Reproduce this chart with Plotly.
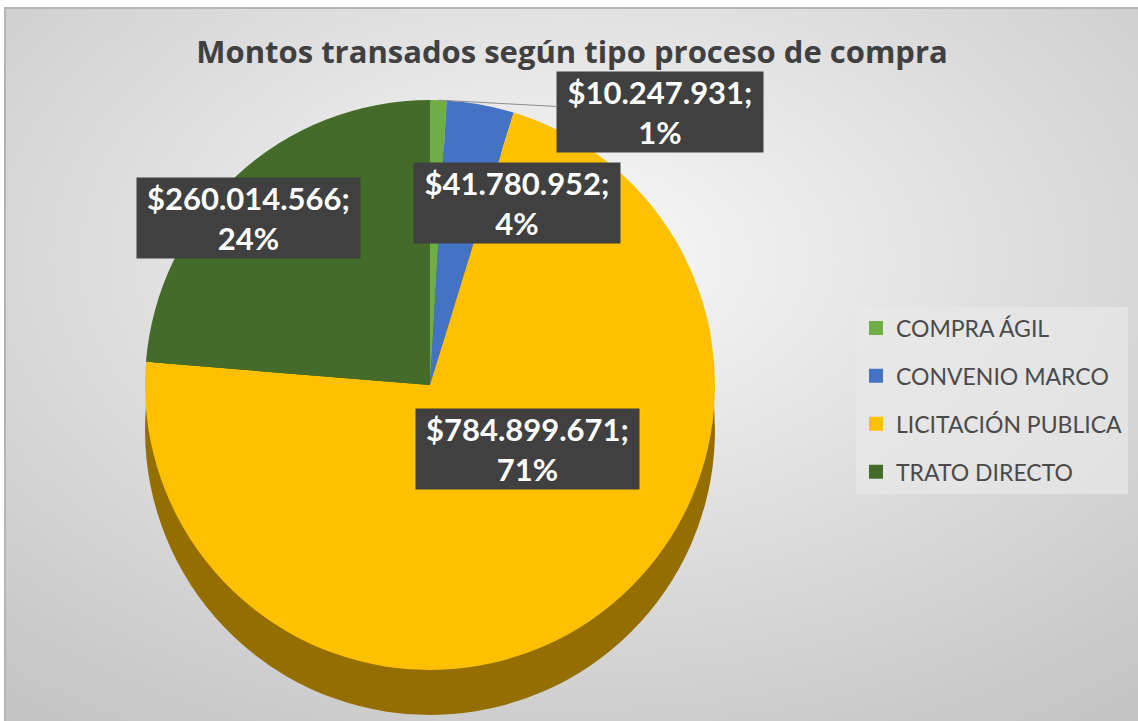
import math
import plotly.graph_objects as go

categorias = ['COMPRA ÁGIL', 'CONVENIO MARCO', 'LICITACIÓN PUBLICA', 'TRATO DIRECTO']
montos = [10247931, 41780952, 784899671, 260014566]
porcentajes = ['1%', '4%', '71%', '24%']
colores = ['#70AD47', '#4472C4', '#FFC000', '#456B2A']
colores_lado = ['#4f7a32', '#2f5290', '#946f00', '#2f4a1d']

W, H = 1138, 721
# pie geometry in pixels
CX, CY, R, DEPTH = 430, 385, 285, 45
# label box centres in pixels
pos_etiquetas = [(660, 112), (517, 203), (527, 449), (248, 218)]

FONT = 'Lato'
GRIS = '#404040'


def dominio(cx, cy, r):
    return dict(x=[(cx - r) / W, (cx + r) / W],
                y=[1 - (cy + r) / H, 1 - (cy - r) / H])


fondo = ("data:image/svg+xml;utf8,"
         "<svg xmlns='http://www.w3.org/2000/svg' width='100' height='100' "
         "preserveAspectRatio='none'><defs><radialGradient id='g' cx='50%' "
         "cy='35%' r='80%'><stop offset='0' stop-color='%23f8f8f8'/>"
         "<stop offset='1' stop-color='%23c4c4c4'/></radialGradient></defs>"
         "<rect width='100' height='100' fill='url(%23g)'/></svg>")

fig = go.Figure()

# side of the "3D" disc
fig.add_trace(go.Pie(labels=categorias, values=montos, sort=False,
                     direction='clockwise', rotation=0,
                     marker=dict(colors=colores_lado),
                     textinfo='none', hoverinfo='skip', showlegend=False,
                     domain=dominio(CX, CY + DEPTH, R)))

fig.add_trace(go.Pie(labels=categorias, values=montos, sort=False,
                     direction='clockwise', rotation=0,
                     marker=dict(colors=colores),
                     textinfo='none', hoverinfo='label+value+percent',
                     showlegend=False,
                     domain=dominio(CX, CY, R)))

# legend entries (spaced like the Excel legend)
for nombre, color in zip(categorias, colores):
    fig.add_trace(go.Scatter(x=[None], y=[None], mode='markers', name=nombre,
                             legendgroup=nombre,
                             marker=dict(symbol='square', size=14,
                                         color=color)))

total = sum(montos)
acum = 0
for i, (m, p) in enumerate(zip(montos, porcentajes)):
    mid = (acum + m / 2) / total * 2 * math.pi
    acum += m
    linea = '$' + f'{m:,}'.replace(',', '.') + ';'
    texto = '<b>' + linea + '<br>' + p + '</b>'
    bx, by = pos_etiquetas[i]
    ann = dict(text=texto, xref='paper', yref='paper', align='center',
               font=dict(family=FONT, size=31, color='white'),
               bgcolor=GRIS, borderpad=1, opacity=1,
               width=17 * len(linea),
               xanchor='center', yanchor='middle')
    if i == 0:
        tx = CX + R * math.sin(mid)
        ty = CY - R * math.cos(mid)
        ann.update(x=tx / W, y=1 - ty / H, showarrow=True, arrowhead=0,
                   arrowwidth=1, arrowcolor='#8c8c8c',
                   ax=bx - tx, ay=by - ty)
    else:
        ann.update(x=bx / W, y=1 - by / H, showarrow=False)
    fig.add_annotation(**ann)

fig.update_layout(
    width=W, height=H,
    margin=dict(l=0, r=0, t=0, b=0),
    paper_bgcolor='white',
    plot_bgcolor='rgba(0,0,0,0)',
    xaxis=dict(visible=False),
    yaxis=dict(visible=False),
    title=dict(text='<b>Montos transados según tipo proceso de compra</b>',
               x=572 / W, xanchor='center', y=1 - 52 / H, yanchor='middle',
               font=dict(family='Open Sans', size=31, color=GRIS)),
    legend=dict(x=856 / W, xanchor='left', y=1 - 400 / H, yanchor='middle',
                bgcolor='rgba(232,232,232,0.7)', tracegroupgap=15,
                font=dict(family=FONT, size=23, color='#4a4a4a'),
                itemwidth=30),
    images=[dict(source=fondo, xref='paper', yref='paper',
                 x=5 / W, y=1 - 8 / H, sizex=1 - 5 / W, sizey=1 - 8 / H,
                 sizing='stretch', layer='below')],
    shapes=[dict(type='rect', xref='paper', yref='paper',
                 x0=5 / W, x1=1.01, y0=-0.01, y1=1 - 8 / H,
                 line=dict(color='#b4b4b4', width=2))],
)

fig.write_html('out.html', config={'displayModeBar': False},
               post_script="document.body.style.margin='0';")
